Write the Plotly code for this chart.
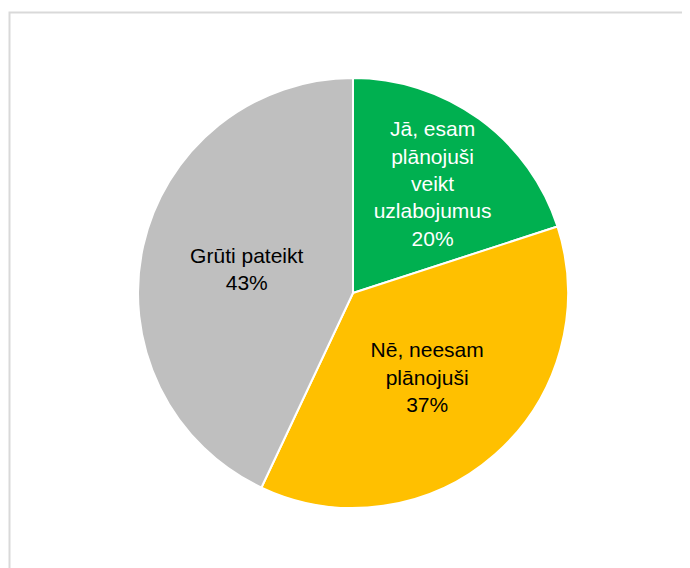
import plotly.graph_objects as go

# Answers and their shares (%)
answers = ["Jā, esam<br>plānojuši<br>veikt<br>uzlabojumus", "Nē, neesam<br>plānojuši", "Grūti pateikt"]
shares = [20, 37, 43]
colors = ["#00B050", "#FFC000", "#BFBFBF"]
text_colors = ["white", "black", "black"]

fig = go.Figure(go.Pie(
    labels=answers,
    values=shares,
    sort=False,
    direction="clockwise",
    rotation=0,
    marker=dict(colors=colors, line=dict(color="white", width=2)),
    texttemplate="%{label}<br>%{percent:.0%}",
    textposition="inside",
    insidetextorientation="horizontal",
    textfont=dict(family="Liberation Sans, Arial", size=21, color=text_colors),
    hoverinfo="label+percent",
    domain=dict(x=[0.1884, 0.8116], y=[0.1197, 0.8768]),
    showlegend=False,
))

fig.update_layout(
    width=690, height=568,
    margin=dict(l=0, r=0, t=0, b=0),
    paper_bgcolor="white",
    uniformtext=dict(minsize=21, mode="show"),
    shapes=[dict(type="rect", xref="paper", yref="paper",
                 x0=1.5 / 690, x1=1.02, y0=-0.02, y1=1 - 4.5 / 568,
                 line=dict(color="#d9d9d9", width=2))],
)

fig.write_html("out.html")
